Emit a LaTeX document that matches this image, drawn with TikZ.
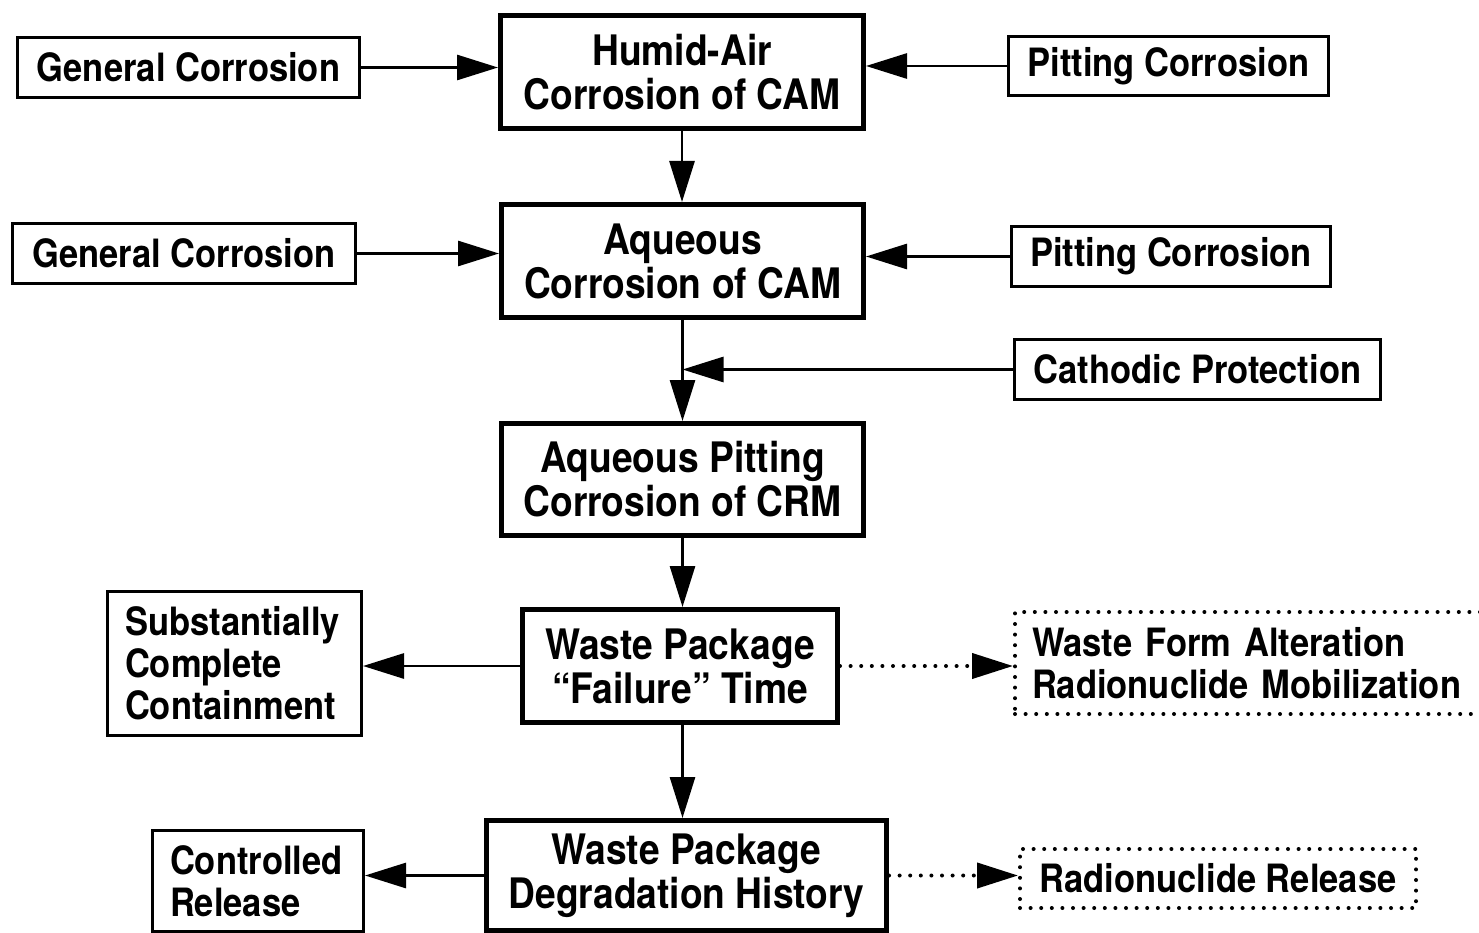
\documentclass[tikz,border=0pt]{standalone}
\usepackage{fontspec}
\setmainfont{TeX Gyre Heros}[FakeStretch=0.885]
\usetikzlibrary{arrows.meta}
\tikzset{
  mainbox/.style={draw, line width=5pt, inner sep=0pt, align=center,
    font=\fontsize{42}{44}\selectfont\bfseries},
  sidebox/.style={draw, line width=2.8pt, inner sep=0pt, align=center,
    font=\fontsize{39}{42}\selectfont\bfseries},
  dotbox/.style={sidebox, line width=4pt, dash pattern=on 0pt off 10.6pt, line cap=round},
  conn/.style={line width=2.8pt, -{Triangle[length=41pt,width=25pt]}},
  dotconn/.style={conn, line width=4pt, dash pattern=on 0pt off 10.6pt, line cap=round}
}
\begin{document}
\begin{tikzpicture}[x=1pt,y=-1pt]
\useasboundingbox (0,0) rectangle (1479,933);
\clip (0,0) rectangle (1479,933);
\fill[white] (0,0) rectangle (1479,933);
% main boxes
\node[mainbox, minimum width=363pt, minimum height=113pt] (b1) at (682,72) {Humid-Air\\Corrosion of CAM};
\node[mainbox, minimum width=362pt, minimum height=113pt] (b2) at (682.5,261) {Aqueous\\Corrosion of CAM};
\node[mainbox, minimum width=362pt, minimum height=112pt] (b3) at (682.5,479.5) {Aqueous Pitting\\Corrosion of CRM};
\node[mainbox, minimum width=315pt, minimum height=113pt] (b4) at (680,666) {Waste Package\\“Failure” Time};
\node[mainbox, minimum width=400pt, minimum height=110pt] (b5) at (686.5,875.5) {Waste Package\\Degradation History};
% side boxes
\node[sidebox, minimum width=342.2pt, minimum height=60.2pt] (gc1) at (188.5,67.5) {General Corrosion};
\node[sidebox, minimum width=320.2pt, minimum height=59.2pt] (pc1) at (1168.5,66) {Pitting Corrosion};
\node[sidebox, minimum width=343.2pt, minimum height=60.2pt] (gc2) at (184,253.5) {General Corrosion};
\node[sidebox, minimum width=319.2pt, minimum height=60.2pt] (pc2) at (1171,256.5) {Pitting Corrosion};
\node[sidebox, minimum width=366.2pt, minimum height=60.2pt] (cp) at (1197.5,369.5) {Cathodic Protection};
\node[sidebox, align=left, inner xsep=17.6pt, text width=219pt, minimum height=144.2pt] (sc) at (234.5,663.5) {Substantially\\Complete\\Containment};
\node[sidebox, align=left, inner xsep=17.6pt, text width=176pt, minimum height=101.2pt] (cr) at (258,881) {Controlled\\Release};
\node[dotbox, align=left, inner xsep=17pt, text width=439pt, minimum height=102pt] (wfa) at (1251.5,663) {Waste Form Alteration\\Radionuclide Mobilization};
\node[dotbox, minimum width=396pt, minimum height=59pt] (rr) at (1218,878.5) {Radionuclide Release};
% connectors
\draw[conn] (gc1.east) -- (gc1.east -| b1.west);
\draw[conn] (pc1.west) -- (pc1.west -| b1.east);
\draw[conn] (b1.south) -- (b1.south |- b2.north);
\draw[conn] (gc2.east) -- (gc2.east -| b2.west);
\draw[conn] (pc2.west) -- (pc2.west -| b2.east);
\draw[conn] (b2.south) -- (b2.south |- b3.north);
\draw[conn] (cp.west) -- (cp.west -| b2.south);
\draw[conn] (b3.south) -- (b3.south |- b4.north);
\draw[conn] (b4.west) -- (b4.west -| sc.east);
\draw[dotconn] (b4.east) -- (b4.east -| wfa.west);
\draw[conn] (b3.south |- b4.south) -- (b3.south |- b5.north);
\draw[conn] (b5.west) -- (b5.west -| cr.east);
\draw[dotconn] (b5.east) -- (b5.east -| rr.west);
\end{tikzpicture}
\end{document}
